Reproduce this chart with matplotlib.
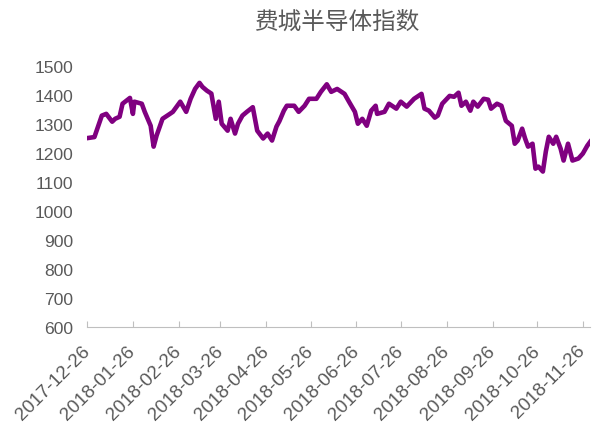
import pandas as pd
import numpy as np
import matplotlib.pyplot as plt

plt.rcParams['font.family'] = ['Liberation Sans', 'Noto Sans CJK SC', 'DejaVu Sans']

title = "费城半导体指数"

dates = ["2017-12-27", "2017-12-31", "2018-01-05", "2018-01-08", "2018-01-12", "2018-01-14",
         "2018-01-17", "2018-01-19", "2018-01-24", "2018-01-26", "2018-01-27", "2018-02-01",
         "2018-02-03", "2018-02-07", "2018-02-09", "2018-02-11", "2018-02-15", "2018-02-20",
         "2018-02-22", "2018-02-27", "2018-03-03", "2018-03-06", "2018-03-09", "2018-03-12",
         "2018-03-14", "2018-03-17", "2018-03-20", "2018-03-23", "2018-03-25", "2018-03-27",
         "2018-03-31", "2018-04-02", "2018-04-05", "2018-04-07", "2018-04-10", "2018-04-13",
         "2018-04-17", "2018-04-20", "2018-04-24", "2018-04-27", "2018-04-30", "2018-05-03",
         "2018-05-05", "2018-05-08", "2018-05-10", "2018-05-15", "2018-05-18", "2018-05-22",
         "2018-05-25", "2018-05-30", "2018-06-02", "2018-06-06", "2018-06-09", "2018-06-13",
         "2018-06-18", "2018-06-21", "2018-06-25", "2018-06-27", "2018-06-30", "2018-07-03",
         "2018-07-06", "2018-07-09", "2018-07-10", "2018-07-15", "2018-07-18", "2018-07-23",
         "2018-07-26", "2018-07-30", "2018-08-04", "2018-08-09", "2018-08-11", "2018-08-14",
         "2018-08-18", "2018-08-20", "2018-08-23", "2018-08-28", "2018-08-31", "2018-09-03",
         "2018-09-05", "2018-09-08", "2018-09-11", "2018-09-13", "2018-09-16", "2018-09-20",
         "2018-09-23", "2018-09-25", "2018-09-29", "2018-10-02", "2018-10-05", "2018-10-09",
         "2018-10-11", "2018-10-13", "2018-10-16", "2018-10-18", "2018-10-20", "2018-10-23",
         "2018-10-25", "2018-10-27", "2018-10-30", "2018-11-01", "2018-11-03", "2018-11-06",
         "2018-11-08", "2018-11-11", "2018-11-13", "2018-11-16", "2018-11-19", "2018-11-23",
         "2018-11-26", "2018-11-29", "2018-12-01"]

values = [1252, 1255, 1329, 1335, 1308, 1318,
          1325, 1370, 1390, 1335, 1377, 1370,
          1342, 1294, 1222, 1260, 1318, 1335,
          1342, 1377, 1342, 1387, 1421, 1442,
          1428, 1415, 1405, 1318, 1377, 1301,
          1277, 1318, 1267, 1301, 1329, 1342,
          1358, 1277, 1250, 1267, 1243, 1291,
          1310, 1346, 1363, 1363, 1342, 1363,
          1387, 1387, 1411, 1437, 1411, 1421,
          1404, 1377, 1342, 1301, 1318, 1294,
          1346, 1363, 1335, 1342, 1370, 1353,
          1377, 1360, 1387, 1404, 1353, 1346,
          1322, 1329, 1370, 1397, 1394, 1408,
          1363, 1377, 1346, 1377, 1360, 1387,
          1384, 1353, 1370, 1363, 1311, 1294,
          1232, 1243, 1284, 1250, 1222, 1232,
          1146, 1153, 1136, 1205, 1256, 1232,
          1256, 1215, 1174, 1232, 1174, 1181,
          1198, 1225, 1239]

tick_dates = ["2017-12-26", "2018-01-26", "2018-02-26", "2018-03-26", "2018-04-26",
              "2018-05-26", "2018-06-26", "2018-07-26", "2018-08-26", "2018-09-26",
              "2018-10-26", "2018-11-26"]

x = pd.to_datetime(dates)
ticks = pd.to_datetime(tick_dates)

fig = plt.figure(figsize=(5.92, 4.27), dpi=100)
ax = fig.add_axes([0.147, 0.232, 0.850, 0.611])
ax.plot(x, values, color="#800080", linewidth=3.3, solid_joinstyle="round")

ax.set_xlim(pd.Timestamp("2017-12-26"), pd.Timestamp("2018-12-01"))
ax.set_ylim(600, 1500)
ax.set_yticks(np.arange(600, 1501, 100))
ax.set_xticks(ticks)
ax.set_xticklabels(tick_dates, rotation=45, ha="right", va="center",
                   rotation_mode="anchor")

for s in ["top", "right", "left"]:
    ax.spines[s].set_visible(False)
ax.spines["bottom"].set_color("#BFBFBF")
ax.tick_params(axis="y", length=0, pad=10, labelsize=12.6, labelcolor="#595959")
ax.tick_params(axis="x", direction="in", length=4, color="#BFBFBF", pad=15,
               labelsize=13.6, labelcolor="#595959")

fig.suptitle(title, x=0.571, y=0.975, fontsize=17, color="#595959",
             family=["Noto Sans CJK SC", "DejaVu Sans"])

fig.savefig("out.png", dpi=100)
